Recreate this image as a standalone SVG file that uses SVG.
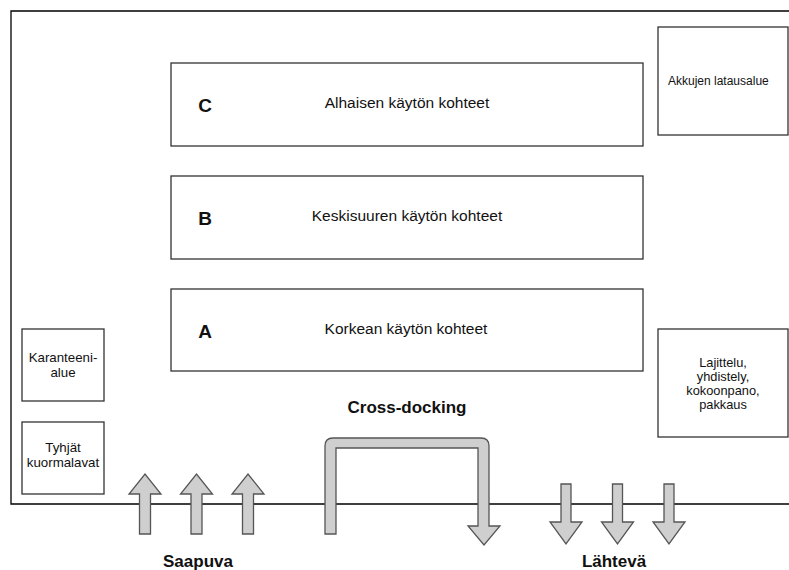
<svg xmlns="http://www.w3.org/2000/svg" width="789" height="570" viewBox="0 0 789 570">
<style>
.box{fill:#fff;stroke:#333;stroke-width:1.3}
.t{font-family:"Liberation Sans",Arial,sans-serif;font-size:13.3px;fill:#111;text-anchor:middle}
.s{font-family:"Liberation Sans",Arial,sans-serif;font-size:12.8px;fill:#111;text-anchor:middle}
.m{font-family:"Liberation Sans",Arial,sans-serif;font-size:15.5px;fill:#111;text-anchor:middle}
.big{font-family:"Liberation Sans",Arial,sans-serif;font-size:19px;font-weight:bold;fill:#111;text-anchor:middle}
.lbl{font-family:"Liberation Sans",Arial,sans-serif;font-size:17px;font-weight:bold;fill:#111;text-anchor:middle}
.arr{fill:#cfcfcf;stroke:#555;stroke-width:1.3;stroke-linejoin:miter}
.line{fill:none;stroke:#000;stroke-width:1.3}
</style>
<rect width="789" height="570" fill="#fff"/>
<g id="building">
<path class="line" d="M789 11 H11 V504 H789"/>
</g>
<g id="zoneC">
<rect class="box" x="171" y="63" width="472" height="83"/>
<text class="big" x="205" y="112">C</text>
<text class="m" x="407" y="108">Alhaisen käytön kohteet</text>
</g>
<g id="zoneB">
<rect class="box" x="171" y="176" width="472" height="83"/>
<text class="big" x="205" y="225">B</text>
<text class="m" x="407" y="221">Keskisuuren käytön kohteet</text>
</g>
<g id="zoneA">
<rect class="box" x="171" y="289" width="472" height="82"/>
<text class="big" x="205" y="338">A</text>
<text class="m" x="406" y="334">Korkean käytön kohteet</text>
</g>
<g id="akkujen">
<rect class="box" x="658" y="27" width="130" height="108"/>
<text class="t" x="668" y="85" style="text-anchor:start;font-size:12px">Akkujen latausalue</text>
</g>
<g id="lajittelu">
<rect class="box" x="658" y="329" width="130" height="108"/>
<text class="s" x="723" y="367">Lajittelu,</text>
<text class="s" x="723" y="381">yhdistely,</text>
<text class="s" x="723" y="395">kokoonpano,</text>
<text class="s" x="723" y="409">pakkaus</text>
</g>
<g id="karanteeni">
<rect class="box" x="22" y="329" width="82" height="72"/>
<text class="t" x="63" y="362">Karanteeni-</text>
<text class="t" x="63" y="377">alue</text>
</g>
<g id="tyhjat">
<rect class="box" x="22" y="422" width="82" height="72"/>
<text class="t" x="63" y="452">Tyhjät</text>
<text class="t" x="63" y="467">kuormalavat</text>
</g>
<g id="connectors">
<path class="arr" d="M139.5 534 V494 H129 L145 474 L161 494 H150.5 V534 Z"/>
<path class="arr" d="M191 534 V494 H180.5 L196.5 474 L212.5 494 H202 V534 Z"/>
<path class="arr" d="M242.5 534 V494 H232 L248 474 L264 494 H253.5 V534 Z"/>
<path class="arr" d="M561 484 V522 H550 L566 544 L582 522 H571 V484 Z"/>
<path class="arr" d="M612.5 484 V522 H601.5 L617.5 544 L633.5 522 H622.5 V484 Z"/>
<path class="arr" d="M664 484 V522 H653 L669 544 L685 522 H674 V484 Z"/>
<path class="arr" d="M325 534 V446 Q325 438 333 438 H481 Q489 438 489 446 V526 H500 L484 545 L468 526 H478 V448 H336 V534 Z"/>
</g>
<g id="labels">
<text class="lbl" x="407" y="413">Cross-docking</text>
<text class="lbl" x="198" y="567">Saapuva</text>
<text class="lbl" x="614" y="567">Lähtevä</text>
</g>
</svg>
